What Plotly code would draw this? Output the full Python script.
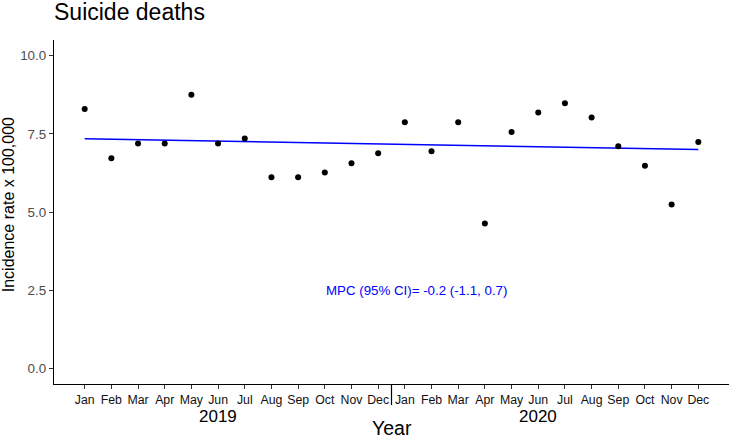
import plotly.graph_objects as go

months = ["Jan", "Feb", "Mar", "Apr", "May", "Jun", "Jul", "Aug", "Sep", "Oct", "Nov", "Dec"]
years = ["2019", "2020"]
month_index = list(range(1, 25))
month_labels = months + months
incidence = [8.29, 6.72, 7.19, 7.19, 8.75, 7.19, 7.35, 6.11, 6.11, 6.26, 6.56, 6.88,
             7.87, 6.94, 7.87, 4.63, 7.56, 8.18, 8.48, 8.02, 7.10, 6.48, 5.24, 7.24]
trend_x = [1, 24]
trend_y = [7.34, 7.00]
year_centers = [6, 18]
mpc_text = "MPC (95% CI)= -0.2 (-1.1, 0.7)"

FONT = "Liberation Sans, Arial, sans-serif"

fig = go.Figure()
fig.add_trace(go.Scatter(x=trend_x, y=trend_y, mode="lines",
                         line=dict(color="#0000FF", width=1.5), showlegend=False,
                         hoverinfo="skip"))
fig.add_trace(go.Scatter(x=month_index, y=incidence, mode="markers",
                         marker=dict(color="black", size=6), showlegend=False))

# title
fig.add_annotation(x=0.0, y=1.081, xref="paper", yref="paper", text="Suicide deaths",
                   showarrow=False, font=dict(family=FONT, size=23, color="black"),
                   xanchor="left", yanchor="middle", xshift=-2)

# MPC annotation
fig.add_annotation(x=13.43, y=2.5, xref="x", yref="y", text=mpc_text, showarrow=False,
                   font=dict(family=FONT, size=13.3, color="#0000FF"),
                   xanchor="center", yanchor="middle")

# year labels
for yc, yl in zip(year_centers, years):
    fig.add_annotation(x=yc, y=-0.095, xref="x", yref="paper", text=yl, showarrow=False,
                       font=dict(family=FONT, size=17, color="black"),
                       xanchor="center", yanchor="middle")

# x axis title
fig.add_annotation(x=0.5, y=-0.129, xref="paper", yref="paper", text="Year", showarrow=False,
                   font=dict(family=FONT, size=19.5, color="black"),
                   xanchor="center", yanchor="middle")

# y axis title
fig.add_annotation(x=-0.068, y=0.52, xref="paper", yref="paper", text="Incidence rate x 100,000",
                   showarrow=False, textangle=-90,
                   font=dict(family=FONT, size=16, color="black"),
                   xanchor="center", yanchor="middle")

# divider between years
fig.add_shape(type="line", xref="x", yref="paper", x0=12.5, x1=12.5, y0=0, y1=-0.061,
              line=dict(color="black", width=1.2))

fig.update_layout(
    width=729, height=439,
    margin=dict(l=54, r=0, t=40, b=55),
    paper_bgcolor="white", plot_bgcolor="white",
    font=dict(family=FONT),
)
fig.update_xaxes(range=[-0.15, 25.15], tickmode="array", tickvals=month_index,
                 ticktext=month_labels, ticks="outside", ticklen=4, tickcolor="#333333",
                 tickfont=dict(family=FONT, size=12.3, color="#111111"),
                 showline=True, linecolor="black", linewidth=1.2, showgrid=False,
                 zeroline=False, tickangle=0)
fig.update_yaxes(range=[-0.5, 10.5], tickmode="array", tickvals=[0, 2.5, 5, 7.5, 10],
                 ticktext=["0.0", "2.5", "5.0", "7.5", "10.0"], ticks="outside", ticklen=4,
                 tickcolor="#333333", tickfont=dict(family=FONT, size=13.4, color="#4d4d4d"),
                 showline=True, linecolor="black", linewidth=1.2, showgrid=False,
                 zeroline=False)

fig.write_html("out.html", config={"displayModeBar": False},
               post_script="document.body.style.margin='0';")
